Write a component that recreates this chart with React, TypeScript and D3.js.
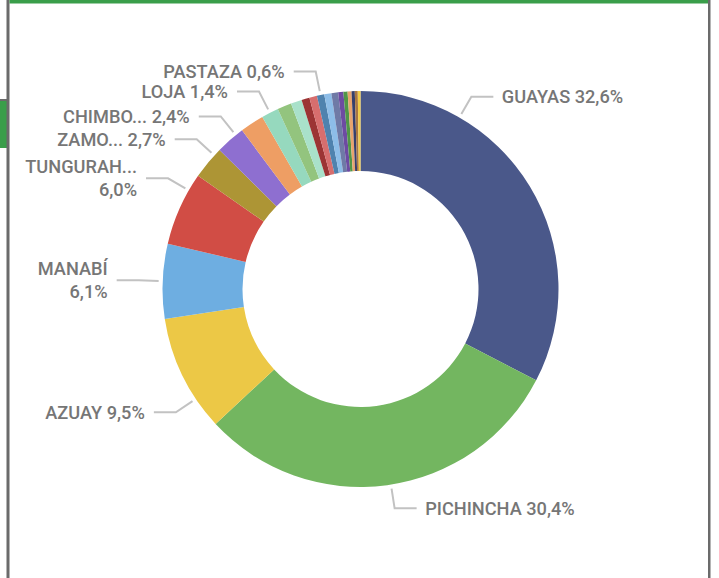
import React from 'react';
import * as d3 from 'd3';

// ---- data ----
const provinces = [
  'GUAYAS', 'PICHINCHA', 'AZUAY', 'MANABÍ', 'TUNGURAHUA', 'ZAMORA CHINCHIPE',
  'CHIMBORAZO', 'EL ORO', 'LOJA', 'IMBABURA', 'COTOPAXI', 'SANTO DOMINGO',
  'LOS RÍOS', 'PASTAZA', 'ESMERALDAS', 'SANTA ELENA', 'CAÑAR', 'MORONA SANTIAGO',
  'NAPO', 'CARCHI', 'BOLÍVAR', 'SUCUMBÍOS',
];
const shares = [
  32.6, 30.4, 9.5, 6.1, 6.0, 2.7,
  2.4, 1.95, 1.4, 1.15, 0.9, 0.65,
  0.62, 0.6, 0.58, 0.55, 0.42, 0.34,
  0.32, 0.26, 0.24, 0.22,
];
const sliceColors = [
  '#4A588A', '#73B660', '#ECC846', '#6EAEE1', '#D14D45', '#AD9535',
  '#8E6FD0', '#EE9E64', '#96D9BE', '#93C47E', '#A9E1CA', '#9C3434',
  '#D76E6E', '#4F82AE', '#8DBDE8', '#6F7AA6', '#6D4BA2', '#519647',
  '#E8A46E', '#373F6B', '#A87643', '#F2CC46',
];
// labels shown (display name lines; percentage appended)
const labelNames = ['GUAYAS', 'PICHINCHA', 'AZUAY', 'MANABÍ', 'TUNGURAH...', 'ZAMO...', 'CHIMBO...', 'LOJA', 'PASTAZA'];
const labelProvince = ['GUAYAS', 'PICHINCHA', 'AZUAY', 'MANABÍ', 'TUNGURAHUA', 'ZAMORA CHINCHIPE', 'CHIMBORAZO', 'LOJA', 'PASTAZA'];
const labelTwoLines = [false, false, false, true, true, false, false, false, false];
// where along the slice the leader line starts (0..1 of the slice's angular span)
const labelAnchor = [0.255, 0.49, 0.27, 0.5, 0.77, 0.78, 0.74, 0.5, 0.5];

const W = 719;
const H = 578;
const cx = 360.5;
const cy = 289;
const R = 198;
const r = 118;

const fmt = (v: number) => d3.format('.1f')(v).replace('.', ',') + '%';

export default function App() {
  const total = d3.sum(shares);
  const data = provinces.map((p, i) => ({ name: p, value: shares[i], color: sliceColors[i] }));
  const pie = d3.pie<any>().value((d: any) => d.value).sort(null);
  const arcs = pie(data);
  const arcGen = d3.arc<any>().innerRadius(r).outerRadius(R);

  const labels = labelProvince.map((p, li) => {
    const a = arcs.find((x) => x.data.name === p)!;
    const ang = a.startAngle + (a.endAngle - a.startAngle) * labelAnchor[li];
    const sx = cx + (R + 4) * Math.sin(ang);
    const sy = cy - (R + 4) * Math.cos(ang);
    const ex = cx + (R + 24) * Math.sin(ang);
    const ey = cy - (R + 24) * Math.cos(ang);
    const right = Math.sin(ang) >= 0;
    const hx = right ? ex + 22 : ex - 22;
    const tx = right ? hx + 8.5 : hx - 9;
    const pct = fmt((a.data.value / total) * 100);
    const lines = labelTwoLines[li] ? [labelNames[li], pct] : [labelNames[li] + ' ' + pct];
    return { sx, sy, ex, ey, hx, tx, right, lines, key: p };
  });

  return (
    <div style={{ position: 'fixed', left: 0, top: 0, width: W, height: H, background: '#fff' }}>
      <svg width={W} height={H} style={{ display: 'block' }}>
        <rect x={0} y={0} width={W} height={H} fill="#ffffff" />
        {/* frame */}
        <rect x={0} y={100} width={8} height={48} fill="#3A9E4A" />
        <rect x={0} y={99} width={8} height={2} fill="#6b6b6b" />
        <rect x={6.5} y={0} width={3} height={H} fill="#6b6b6b" />
        <rect x={708} y={0} width={2.5} height={H} fill="#6b6b6b" />
        <rect x={9.5} y={0} width={698.5} height={3.5} fill="#3A9E4A" />

        <g transform={`translate(${cx},${cy})`}>
          {arcs.map((a, i) => (
            <path key={i} d={arcGen(a) as string} fill={a.data.color} />
          ))}
        </g>
        {labels.map((l) => (
          <g key={l.key}>
            <polyline
              points={`${l.sx},${l.sy} ${l.ex},${l.ey} ${l.hx},${l.ey}`}
              fill="none"
              stroke="#c2c2c2"
              strokeWidth={2}
            />
            {l.lines.map((t, k) => (
              <text
                key={k}
                x={l.tx}
                y={l.ey + (l.lines.length === 1 ? 0 : k === 0 ? -11.5 : 11.5)}
                textAnchor={l.right ? 'start' : 'end'}
                dominantBaseline="central"
                fontFamily="Roboto, 'DejaVu Sans', sans-serif"
                fontSize={18.2}
                fontWeight={500}
                fill="#767676"
              >
                {t}
              </text>
            ))}
          </g>
        ))}
      </svg>
    </div>
  );
}
